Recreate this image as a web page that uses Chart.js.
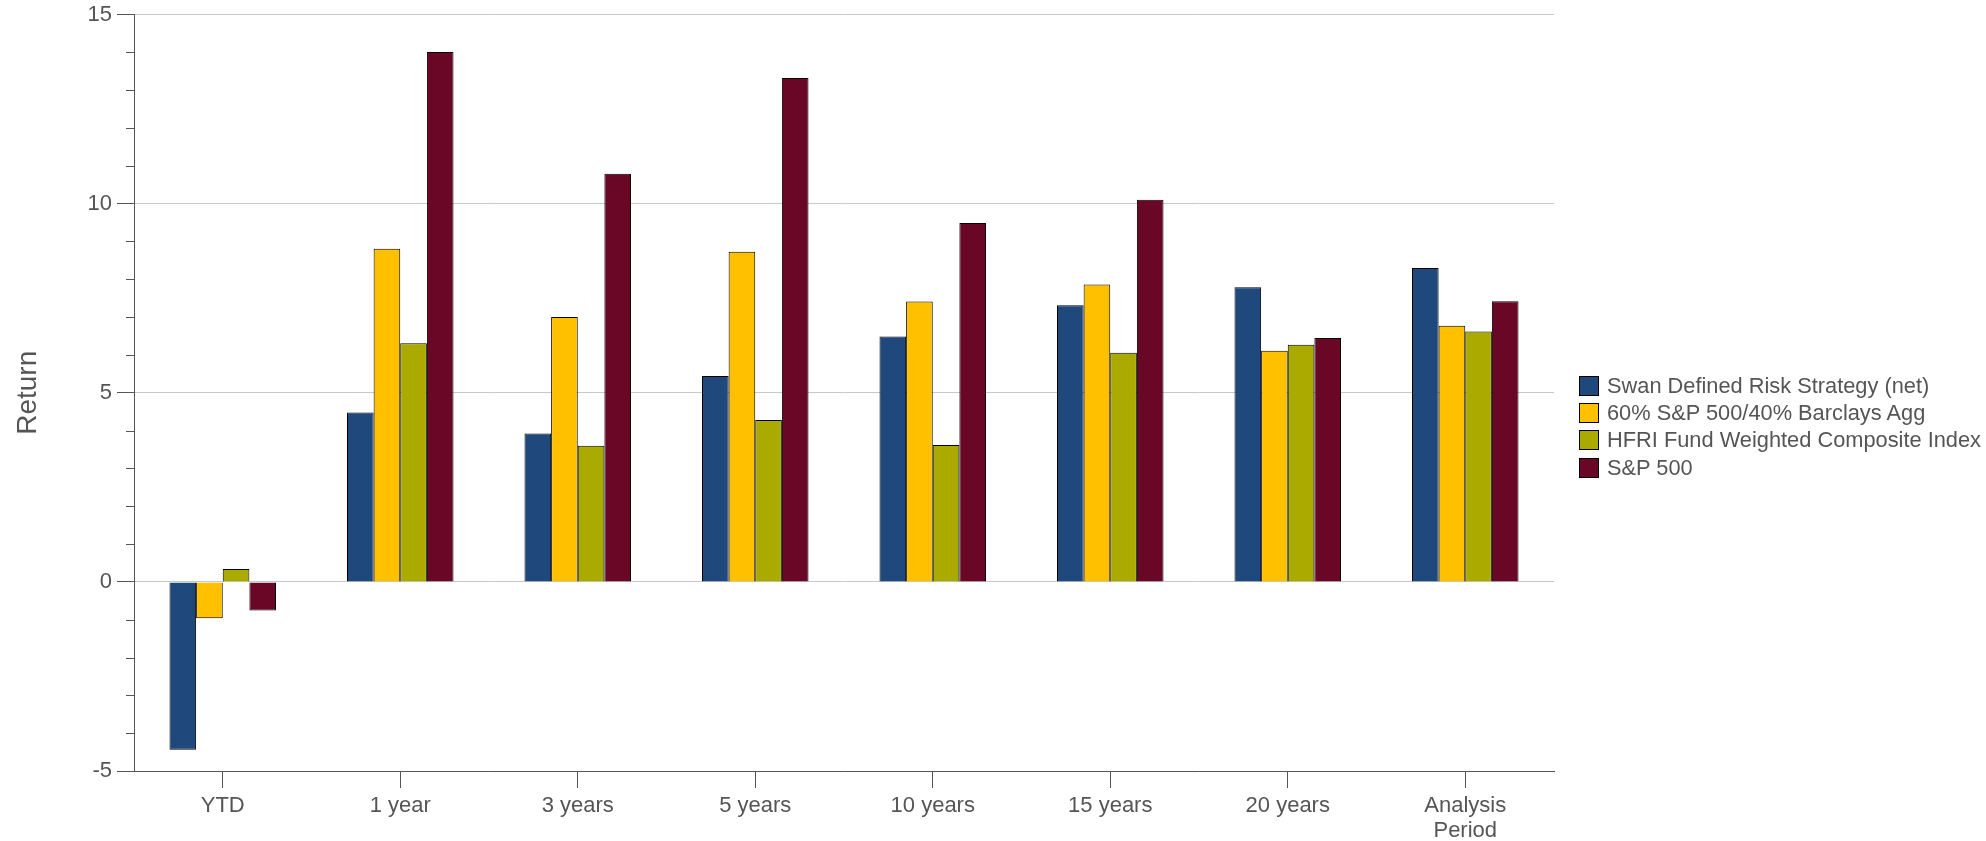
<!DOCTYPE html>
<html>
<head>
<meta charset="utf-8">
<script src="https://cdn.jsdelivr.net/npm/chart.js@4.4.1/dist/chart.umd.min.js"></script>
<style>
  html, body { margin: 0; padding: 0; background: #fff; }
  #wrap { position: relative; width: 1986px; height: 841px; }
  #legend {
    position: absolute; left: 1579px; top: 372px;
    font-family: 'Liberation Sans', Arial, sans-serif; font-size: 21.8px; color: #555;
  }
  .item { display: flex; align-items: center; height: 27.3px; white-space: nowrap; }
  .swatch { width: 20px; height: 20px; box-sizing: border-box; border: 1px solid #000; margin-right: 8px; }
</style>
</head>
<body>
<div id="wrap">
  <canvas id="chart" width="1986" height="841"></canvas>
  <div id="legend"></div>
</div>
<script>
// Categories and series (returns, %)
const categories = ['YTD', '1 year', '3 years', '5 years', '10 years', '15 years', '20 years', ['Analysis', 'Period']];
const swanReturns = [-4.44, 4.48, 3.92, 5.44, 6.49, 7.31, 7.79, 8.30];
const balancedReturns = [-0.96, 8.81, 7.00, 8.73, 7.41, 7.86, 6.11, 6.77];
const hfriReturns = [0.34, 6.31, 3.60, 4.28, 3.62, 6.06, 6.27, 6.62];
const spReturns = [-0.76, 14.01, 10.79, 13.32, 9.49, 10.10, 6.45, 7.42];
const seriesNames = ['Swan Defined Risk Strategy (net)', '60% S&P 500/40% Barclays Agg', 'HFRI Fund Weighted Composite Index', 'S&P 500'];
const seriesColors = ['#1f497d', '#ffc000', '#aaaa00', '#6a0626'];

const FONT = "'Liberation Sans', Arial, sans-serif";
const TEXT = '#555555';
const AXIS = '#555555';

// short minor ticks on the y axis (major ones come from Chart.js)
const minorTicks = {
    id: 'minorTicks',
    afterDraw(chart) {
        const y = chart.scales.y;
        const ctx = chart.ctx;
        ctx.save();
        ctx.strokeStyle = AXIS;
        ctx.lineWidth = 1;
        y.ticks.forEach(t => {
            if (t.value % 5 === 0) return;
            const py = Math.round(y.getPixelForValue(t.value)) + 0.5;
            ctx.beginPath();
            ctx.moveTo(y.right - 8, py);
            ctx.lineTo(y.right, py);
            ctx.stroke();
        });
        ctx.restore();
    }
};

const datasets = [swanReturns, balancedReturns, hfriReturns, spReturns].map((data, i) => ({
    label: seriesNames[i],
    data: data,
    backgroundColor: seriesColors[i],
    borderColor: '#000000',
    borderWidth: 1,
    categoryPercentage: 0.6,
    barPercentage: 1.0
}));

new Chart(document.getElementById('chart'), {
    type: 'bar',
    data: { labels: categories, datasets: datasets },
    plugins: [minorTicks],
    options: {
        responsive: false,
        animation: false,
        layout: { padding: { left: 0, top: 14.5, right: 432, bottom: 0 } },
        plugins: {
            tooltip: { enabled: false },
            legend: { display: false }
        },
        scales: {
            x: {
                afterFit: s => { s.height = 70; },
                grid: {
                    offset: false,
                    drawOnChartArea: false,
                    drawTicks: true,
                    tickLength: 17,
                    tickColor: AXIS
                },
                border: { color: AXIS, width: 1 },
                ticks: {
                    font: { family: FONT, size: 22, lineHeight: 1.136 },
                    color: TEXT,
                    padding: 5,
                    maxRotation: 0,
                    autoSkip: false
                }
            },
            y: {
                min: -5,
                max: 15,
                afterFit: s => { s.width = 134; s.paddingTop = 0; s.paddingBottom = 0; },
                title: {
                    display: true,
                    text: 'Return',
                    font: { family: FONT, size: 28 },
                    color: TEXT,
                    padding: { top: 11, bottom: 0 }
                },
                grid: {
                    color: c => (c.tick && c.tick.value % 5 === 0) ? '#c8c8c8' : 'rgba(0,0,0,0)',
                    tickColor: c => (c.tick && c.tick.value % 5 === 0) ? AXIS : 'rgba(0,0,0,0)',
                    tickLength: 17,
                    lineWidth: 1
                },
                border: { color: AXIS, width: 1 },
                ticks: {
                    stepSize: 1,
                    font: { family: FONT, size: 22 },
                    color: TEXT,
                    padding: 5,
                    callback: v => (v % 5 === 0 ? v : '')
                }
            }
        }
    }
});

// legend built from the same series lists
const legend = document.getElementById('legend');
seriesNames.forEach((name, i) => {
    const row = document.createElement('div');
    row.className = 'item';
    const sw = document.createElement('span');
    sw.className = 'swatch';
    sw.style.background = seriesColors[i];
    const txt = document.createElement('span');
    txt.textContent = name;
    row.appendChild(sw);
    row.appendChild(txt);
    legend.appendChild(row);
});
</script>
</body>
</html>
